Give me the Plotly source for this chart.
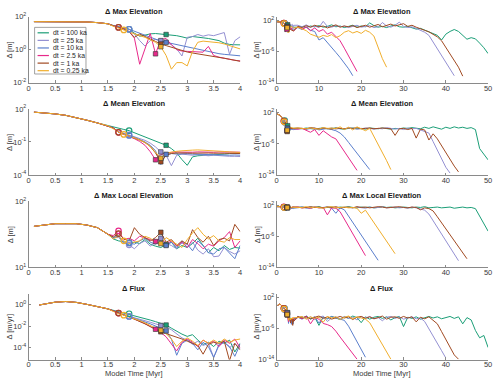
import plotly.graph_objects as go

W, H = 500, 384

SERIES = ["dt = 100 ka", "dt = 25 ka", "dt = 10 ka", "dt = 2.5 ka", "dt = 1 ka", "dt = 0.25 ka"]
COLORS = ["#1b9e77", "#9490d2", "#5b7fcc", "#e7298a", "#a14a22", "#f0ae2c"]

TITLES = ["\u0394 Max Elevation", "\u0394 Mean Elevation", "\u0394 Max Local Elevation", "\u0394 Flux"]
YLABELS = ["\u0394 [m]", "\u0394 [m]", "\u0394 [m]", "\u0394 [m/yr]"]
XLABEL = "Model Time [Myr]"

# model times [Myr]
T_EARLY = [0.1, 0.3, 0.5, 0.7, 0.9, 1.1, 1.3, 1.5]
T_EARLY_FLUX = [0.2, 0.3, 0.5, 0.7, 0.9, 1.1, 1.3, 1.5]
T_MID = [1.6, 1.7, 1.8, 1.9, 2.0, 2.1, 2.2, 2.3, 2.4, 2.5, 2.6, 2.7, 2.8, 2.9, 3.0,
         3.1, 3.2, 3.3, 3.4, 3.5, 3.6, 3.7, 3.8, 3.9, 4.0]
T_TAIL = [5, 6, 7, 8, 9, 10, 11, 12, 13, 14, 15, 16, 17, 18, 19, 20, 21, 22, 23, 24, 25,
          26, 27, 28, 29, 30, 31, 32, 33, 34, 35, 36, 37, 38, 39, 40, 41, 42, 43, 44, 45,
          46, 47, 48, 49, 50]

# marker times (open circle, filled square) per series
CIRCLE_T = [1.9, 1.9, 1.9, 1.7, 1.7, 1.8]
SQUARE_T = [2.6, 2.5, 2.6, 2.4, 2.5, 2.5]

# ---- values are log10 of the difference ----
# Max Elevation
MAXEL_EARLY = [1.70, 1.70, 1.70, 1.70, 1.69, 1.68, 1.64, 1.57]
MAXEL_100 = [1.47, 1.38, 1.30, 1.24, 1.00, 0.82, 0.88, 0.96, 0.98, 0.95, 0.92, 0.88, 0.85, 0.78, 0.70,
             0.80, 0.78, 0.72, 0.68, 0.62, 0.55, 0.40, 0.32, 0.30, 0.30,
             0.3, 0.5, 0.2, 0.6, 0.4, 0.7, 0.3, 0.5, 0.9, 0.4, 0.6, 0.2, 0.5, 0.8, 0.3, 0.6, 0.4, 1.4,
             0.7, 0.3, 0.5, 0.2, 0.6, 0.9, 0.4, 0.3, 0.5, 0.1, -0.2, 0.0, -0.4, -0.8, -1.2, -1.8,
             -3.0, -1.5, -0.8, -0.3, -0.8, -1.8, -2.8, -2.4, -2.7, -3.8, -5.0, -6.5]
MAXEL_25 = [1.45, 1.36, 1.30, 1.24, 0.95, 0.55, 0.22, 0.55, 0.62, 0.55, 0.45, 0.30, 0.05, -0.38, 0.75,
            0.80, 0.92, 0.82, 0.90, 0.85, 0.95, 1.04, -0.28, 0.55, 0.78,
            0.8, 0.4, 0.9, 0.3, 0.6, 0.2, 1.8, 0.5, 0.3, 0.7, 0.4, 0.6, 0.2, 0.5, 0.8, 0.3, 0.5, 0.7,
            0.2, 0.4, 1.5, 0.6, 0.3, 0.8, 1.6, 0.5, 0.2, 0.4, 0.0, -0.5, -1.0,
            -1.8, -3.5, -5.2, -7.0, -8.8, -10.5, -12.2]
MAXEL_10 = [1.45, 1.36, 1.30, 1.24, 1.12, 1.00, 0.88, 0.75, 0.60, 0.52, 0.45, 0.38, 0.30, 0.22, 0.15,
            0.08, 0.02, -0.05, -0.12, -0.18, -0.24, -0.28, -0.32, -0.35, -0.37,
            0.2, -0.3, 0.4, -0.5, -0.8, -3.0, -2.4, -3.6, -4.9, -6.2, -7.5, -8.8, -10.4, -12.2]
MAXEL_2_5 = [1.45, 1.36, 1.25, 1.10, 0.70, -0.88, 0.00, 0.98, -0.25, 0.62, 0.68, 0.30, 0.00, -0.08, -0.10,
             -0.12, -0.12, -0.15, 0.20, -0.35, -0.45, -0.52, -0.58, -0.64, -0.68,
             0.5, -0.2, 0.3, -0.6, 0.1, -0.8, -0.3, -1.5, -1.0, -2.2, -3.2, -5.1, -7.0, -9.0, -11.1]
MAXEL_1 = [1.45, 1.35, 1.25, 1.10, 0.75, 0.95, 0.82, 0.65, 0.50, 0.35, 0.25, 0.15, 0.05, -0.05, -0.14,
           -0.20, -0.25, -0.30, -0.34, -0.38, -0.45, -0.52, -0.58, -0.64, -0.70,
           0.5, 0.2, 0.7, 0.3, 0.8, 0.4, 0.6, 0.1, 0.5, 0.9, 0.3, 0.6, 0.4, 0.7, 0.2, 0.5, 0.8, 0.3,
           0.6, 1.0, 0.4, 0.7, 1.1, 0.6, 0.9, 1.2, 0.5, 0.8, 0.3, 0.0, -0.5, -0.9, -1.5, -2.2,
           -3.2, -4.9, -6.6, -8.3, -10.0, -12.3]
MAXEL_0_25 = [1.42, 1.30, 1.20, 1.10, 0.95, 0.85, 0.75, 0.62, 0.45, 0.18, -0.35, -1.18, -0.78, -0.78, -0.98,
              -0.10, 0.45, 0.52, 0.50, 0.48, 0.42, 0.35, 0.25, 0.15, 0.05,
              0.3, -0.2, -0.6, -1.5, -2.0, -2.3, -1.8, -2.1, -1.6, -2.4, -1.9, -1.0, -0.6, -1.2, -0.8,
              -1.3, -0.5, -1.0, -2.0, -4.8, -7.8, -10.0]

# Mean Elevation
MEANEL_EARLY = [1.71, 1.65, 1.55, 1.42, 1.22, 0.98, 0.73, 0.47]
MEANEL_100 = [0.35, 0.25, 0.14, 0.03, -0.16, -0.35, -0.54, -0.73, -0.92, -1.11, -1.30, -1.60, -2.00, -2.60,
              -3.12, -2.35, -2.25, -2.22, -2.20, -2.18, -2.15, -2.10, -2.05, -2.00, -1.97,
              -2.0, -2.1, -1.9, -2.0, -2.2, -2.0, -1.9, -2.1, -2.0, -1.9, -2.1, -2.2, -2.0, -1.9, -2.1,
              -2.0, -2.2, -1.9, -2.0, -2.1, -1.9, -2.0, -2.2, -2.0, -2.1, -1.9, -2.0, -1.8, -1.9, -2.1,
              -1.7, -2.0, -1.6, -1.9, -2.2, -1.7, -2.0, -1.6, -1.9, -1.7, -2.0, -1.8, -2.3,
              -7.2, -8.6, -10.1]
MEANEL_25 = [0.25, -0.05, -0.20, -0.35, -0.50, -0.68, -0.85, -1.10, -1.45, -1.90, -2.20, -3.15, -2.20, -2.10,
             -2.15, -2.20, -2.15, -2.20, -2.25, -2.20, -2.25, -2.28, -2.30, -2.30, -2.32,
             -2.1, -2.0, -2.2, -1.9, -2.1, -2.3, -2.0, -2.1, -1.9, -2.2, -2.0, -2.1, -1.9, -2.0, -2.2,
             -2.1, -1.9, -2.0, -2.2, -2.0, -2.1, -1.8, -2.0, -2.2, -2.0, -2.3, -1.9, -2.1, -2.0, -2.4,
             -2.6, -3.2, -5.4, -7.6, -9.8, -12.0, -13.5]
MEANEL_10 = [0.28, -0.10, -0.25, -0.40, -0.58, -0.78, -1.00, -1.30, -1.80, -3.05, -2.12, -2.05, -2.10, -2.08,
             -2.05, -2.10, -2.12, -2.10, -2.15, -2.12, -2.15, -2.18, -2.20, -2.18, -2.20,
             -2.1, -2.0, -2.2, -2.1, -1.9, -2.4, -2.1, -2.0, -2.3, -2.6, -3.2, -4.2, -5.6, -7.0, -8.4,
             -9.8, -11.2, -12.6]
MEANEL_2_5 = [0.28, -0.12, -0.30, -0.50, -0.70, -0.95, -1.30, -1.88, -2.62, -2.15, -2.00, -1.95, -1.90, -1.92,
              -1.95, -1.93, -1.90, -1.92, -1.95, -1.93, -1.90, -1.92, -1.95, -1.93, -1.95,
              -2.2, -2.0, -2.4, -3.0, -2.3, -3.8, -2.6, -3.4, -4.2, -4.7, -6.3, -8.0, -9.6, -11.2, -12.8]
MEANEL_1 = [0.28, -0.12, -0.28, -0.45, -0.62, -0.82, -1.05, -1.40, -2.00, -2.80, -2.20, -2.05, -2.00, -1.98,
            -2.00, -2.02, -2.00, -1.98, -2.00, -2.02, -2.00, -2.02, -2.03, -2.04, -2.05,
            -1.9, -2.0, -2.1, -1.8, -2.0, -2.1, -1.9, -2.0, -2.2, -1.9, -2.0, -2.1, -1.9, -2.0, -1.8,
            -2.1, -2.0, -1.9, -2.1, -2.0, -1.9, -2.0, -2.1, -3.8, -2.1, -2.0, -2.3, -2.0, -4.5, -2.2,
            -2.4, -5.0, -3.4, -4.7, -6.5, -8.2, -10.0, -11.7, -13.2]
MEANEL_0_25 = [0.20, -0.10, -0.31, -0.45, -0.62, -0.82, -1.05, -1.40, -1.95, -2.47, -2.00, -1.90, -1.85, -1.80,
               -1.75, -1.74, -1.72, -1.74, -1.74, -1.76, -1.82, -1.86, -1.90, -1.93, -1.95,
               -1.9, -2.0, -2.1, -1.9, -2.0, -2.2, -1.8, -2.0, -1.9, -2.1, -1.6, -2.3, -1.7, -2.4, -1.6,
               -2.2, -2.6, -2.0, -4.0, -6.1, -8.2, -10.3, -12.6]

# Max Local Elevation
MAXLOC_EARLY = [1.62, 1.64, 1.66, 1.66, 1.66, 1.64, 1.60, 1.50]
MAXLOC_100 = [1.43, 1.40, 1.38, 1.37, 1.38, 1.36, 1.42, 1.35, 1.32, 1.30, 1.34, 1.38, 1.28, 1.33, 1.30,
              1.36, 1.44, 1.32, 1.22, 1.30, 1.25, 1.33, 1.27, 1.30, 1.29,
              1.4, 1.5, 1.3, 1.5, 1.4, 1.6, 1.3, 1.4, 1.5, 1.3, 1.5, 1.4, 1.6, 1.4, 1.3, 1.5, 1.4, 1.5,
              1.3, 1.4, 1.6, 1.4, 1.5, 1.3, 1.4, 1.5, 1.4, 1.3, 1.5, 1.4, 1.6, 1.3, 1.4, 1.5, 1.3, 1.4,
              1.5, 1.2, 1.4, 1.5, 1.3, 1.4, 1.1, -0.8, -2.7, -4.7]
MAXLOC_25 = [1.45, 1.45, 1.38, 1.34, 1.28, 1.36, 1.40, 1.32, 1.38, 1.44, 1.36, 1.33, 1.28, 1.40, 1.30,
             1.38, 1.26, 1.20, 1.28, 1.16, 1.17, 1.30, 1.24, 1.20, 1.25,
             1.3, 1.5, 1.4, 1.2, 1.5, 1.3, 1.4, 1.6, 1.3, 1.4, 1.2, 1.5, 1.4, 1.3, 1.5, 1.4, 1.2, 1.5,
             1.3, 1.4, 1.6, 1.3, 1.4, 1.5, 1.3, 1.4, 1.2, 1.5, 1.3, 1.0, 0.7,
             -0.3, -2.0, -3.8, -5.5, -7.3, -9.0, -10.8, -12.3]
MAXLOC_10 = [1.45, 1.48, 1.36, 1.37, 1.35, 1.40, 1.44, 1.38, 1.35, 1.40, 1.33, 1.38, 1.30, 1.37, 1.35,
             1.25, 1.40, 1.33, 1.22, 1.20, 1.28, 1.30, 1.22, 1.13, 1.33,
             1.4, 1.5, 1.3, 1.2, 1.5, 1.4, 1.3, 1.5, 1.2, -0.1, 1.3, 0.8, -0.8, -2.5, -4.1, -5.7, -7.4,
             -9.0, -10.6, -12.2]
MAXLOC_2_5 = [1.48, 1.55, 1.42, 1.44, 1.40, 1.47, 1.45, 1.42, 1.39, 1.45, 1.35, 1.40, 1.32, 1.38, 1.30,
              1.42, 1.36, 1.28, 1.35, 1.32, 1.40, 1.45, 1.54, 1.30, 1.40,
              1.5, 1.3, 1.4, 1.2, 1.5, 1.3, 1.4, -0.5, 1.3, 1.2, 0.3, -1.6, -3.5, -5.3, -7.2, -9.1, -11.0]
MAXLOC_1 = [1.46, 1.51, 1.43, 1.40, 1.60, 1.50, 1.45, 1.40, 1.45, 1.53, 1.38, 1.42, 1.33, 1.40, 1.35,
            1.57, 1.45, 1.38, 1.47, 1.33, 1.42, 1.44, 1.40, 1.65, 1.54,
            1.5, 1.3, 1.4, 1.6, 1.4, 1.5, 1.3, 1.5, 1.4, 1.6, 1.3, 1.4, 1.5, 1.3, 1.6, 1.4, 1.5, 1.3,
            1.4, 1.6, 1.5, 1.3, 1.4, 1.5, 1.6, 1.4, 1.3, 1.5, 1.4, 0.8, 1.3, 1.1,
            0.5, -1.0, -2.5, -4.0, -5.5, -7.0, -8.5, -10.0, -11.8]
MAXLOC_0_25 = [1.43, 1.47, 1.40, 1.36, 1.38, 1.40, 1.47, 1.44, 1.38, 1.36, 1.45, 1.40, 1.34, 1.30, 1.42,
               1.52, 1.60, 1.50, 1.43, 1.48, 1.40, 1.38, 1.45, 1.42, 1.42,
               1.5, 1.4, 1.6, 1.3, 1.5, 1.4, 1.2, 1.5, 1.6, 1.3, 1.4, 1.5, 1.3, 1.4, 1.2, -0.1, 0.7,
               -0.9, -2.5, -4.1, -5.7, -7.3, -8.9, -10.5]

# Flux
FLUX_EARLY = [-0.06, 0.04, 0.20, 0.26, 0.18, 0.00, -0.18, -0.42]
FLUX_100 = [-0.55, -0.68, -0.78, -0.87, -1.00, -1.15, -1.30, -1.45, -1.60, -1.75, -1.91, -2.20, -2.50, -2.75,
            -2.96, -2.80, -3.30, -3.70, -3.50, -3.90, -3.40, -3.60, -3.30, -4.40, -3.60,
            -3.0, -3.4, -2.8, -3.6, -3.1, -5.2, -3.0, -3.5, -2.9, -3.3, -3.7, -3.0, -3.4, -2.8, -3.2,
            -4.5, -3.0, -3.6, -3.1, -2.9, -3.4, -3.0, -3.8, -3.2, -2.9, -5.5, -3.1, -3.4, -3.0, -3.6,
            -3.2, -2.9, -3.3, -3.0, -3.5, -3.1, -2.9, -3.4, -3.0, -4.8, -3.2, -3.8,
            -6.5, -8.4, -7.8, -10.9]
FLUX_25 = [-0.60, -0.80, -0.95, -1.10, -1.22, -1.35, -1.50, -1.65, -1.80, -1.95, -2.10, -2.35, -2.70, -3.10,
           -3.30, -3.70, -3.40, -3.80, -3.60, -4.90, -3.80, -3.50, -4.00, -3.60, -4.10,
           -3.2, -2.9, -3.5, -3.0, -3.7, -3.1, -2.8, -4.2, -3.3, -3.0, -3.6, -2.9, -3.4, -3.1, -3.8,
           -3.0, -3.3, -2.9, -3.5, -3.2, -4.0, -3.1, -2.9, -3.4, -3.0, -3.6, -3.2, -3.0, -3.5, -3.3,
           -4.2, -6.0, -7.9, -9.8, -11.7, -13.6]
FLUX_10 = [-0.60, -0.82, -0.98, -1.12, -1.28, -1.45, -1.62, -1.80, -2.00, -2.25, -2.45, -3.20, -4.70, -3.60,
           -3.30, -3.60, -4.20, -3.50, -3.90, -4.90, -3.70, -3.50, -3.90, -4.80, -3.70,
           -3.1, -3.6, -2.9, -3.4, -3.0, -4.6, -3.2, -3.5, -2.9, -3.3, -3.6,
           -3.9, -5.4, -7.4, -9.4, -11.4, -13.4]
FLUX_2_5 = [-0.60, -0.81, -0.98, -1.15, -1.35, -1.55, -1.78, -2.05, -2.30, -2.60, -3.00, -3.60, -4.30, -3.50,
            -3.20, -3.50, -3.90, -3.30, -3.60, -3.40, -3.90, -3.30, -3.60, -3.20, -4.00,
            -3.0, -3.5, -2.8, -4.8, -3.2, -3.6, -4.7, -5.0, -5.5, -6.7, -8.2, -9.6, -11.0, -12.5, -13.9]
FLUX_1 = [-0.60, -0.81, -0.98, -1.15, -1.35, -1.55, -1.80, -2.05, -2.30, -2.54, -2.70, -2.85, -3.00, -3.20,
          -3.40, -3.60, -3.80, -4.60, -3.70, -3.50, -3.60, -3.40, -5.20, -3.60, -4.20,
          -2.9, -3.3, -3.0, -3.5, -3.1, -2.8, -3.4, -3.0, -3.6, -3.2, -2.9, -3.3, -3.0, -3.7, -3.1,
          -2.9, -3.4, -3.0, -3.5, -3.2, -2.8, -3.6, -3.1, -3.0, -3.4, -2.9, -3.3, -3.0, -4.3, -3.1,
          -3.5, -3.0, -3.8, -4.8, -6.8, -8.8, -10.8, -12.8, -13.9]
FLUX_0_25 = [-0.65, -0.88, -1.00, -1.15, -1.32, -1.50, -1.70, -1.95, -2.20, -2.40, -2.70, -3.20, -3.90, -3.40,
             -3.10, -3.40, -3.80, -3.30, -3.60, -3.30, -3.60, -3.20, -3.50, -3.30, -3.20,
             -3.2, -2.9, -3.6, -3.0, -3.4, -3.1, -4.4, -2.9, -3.3, -3.0, -3.7, -3.1, -2.8, -3.5, -3.0,
             -3.3, -3.6, -4.5, -6.4, -8.3, -10.2, -12.1, -13.9]

PANELS = [
    (T_EARLY, MAXEL_EARLY, [MAXEL_100, MAXEL_25, MAXEL_10, MAXEL_2_5, MAXEL_1, MAXEL_0_25]),
    (T_EARLY, MEANEL_EARLY, [MEANEL_100, MEANEL_25, MEANEL_10, MEANEL_2_5, MEANEL_1, MEANEL_0_25]),
    (T_EARLY, MAXLOC_EARLY, [MAXLOC_100, MAXLOC_25, MAXLOC_10, MAXLOC_2_5, MAXLOC_1, MAXLOC_0_25]),
    (T_EARLY_FLUX, FLUX_EARLY, [FLUX_100, FLUX_25, FLUX_10, FLUX_2_5, FLUX_1, FLUX_0_25]),
]

# axis exponent ranges and tick exponents
YRANGE_LEFT = [[-2, 2], [-4, 2], [1, 2], [-5.1, 1]]
YTICK_LEFT = [[-2, 0, 2], [-4, -1, 2], [1, 2], [-4, -2, 0]]
YRANGE_RIGHT = [-14, 3]
YTICK_RIGHT = [-14, -6, 2]
XTICK_LEFT = [0, 0.5, 1, 1.5, 2, 2.5, 3, 3.5, 4]
XTICK_RIGHT = [0, 10, 20, 30, 40, 50]

FONT = "Liberation Sans, Arial, sans-serif"
LINE_C = "#8a8a8a"
TXT_C = "#3a3a3a"

XDOM = [[27 / W, 241 / W], [278 / W, 492 / W]]
ROW_TOP = [11, 106, 201, 296]
PH = 68

fig = go.Figure()
layout = {}
annotations = []
shapes = []

for r in range(4):
    t_early, early, series = PANELS[r]
    y0 = 1 - (ROW_TOP[r] + PH) / H
    y1 = 1 - ROW_TOP[r] / H
    for c in range(2):
        k = r * 2 + c + 1
        xa = "x" if k == 1 else f"x{k}"
        ya = "y" if k == 1 else f"y{k}"
        xname = "xaxis" if k == 1 else f"xaxis{k}"
        yname = "yaxis" if k == 1 else f"yaxis{k}"
        for i, vals in enumerate(series):
            t = t_early + T_MID + T_TAIL[:len(vals) - len(T_MID)]
            v = early + vals
            fig.add_trace(go.Scatter(
                x=t, y=[10 ** e for e in v], mode="lines", xaxis=xa, yaxis=ya,
                line=dict(color=COLORS[i], width=1), showlegend=False, hoverinfo="skip"))
        # markers
        cx, cy, sx, sy = [], [], [], []
        for i, vals in enumerate(series):
            ic = min(range(len(T_MID)), key=lambda j: abs(T_MID[j] - CIRCLE_T[i]))
            isq = min(range(len(T_MID)), key=lambda j: abs(T_MID[j] - SQUARE_T[i]))
            cx.append(T_MID[ic]); cy.append(10 ** vals[ic])
            sx.append(T_MID[isq]); sy.append(10 ** vals[isq])
        fig.add_trace(go.Scatter(
            x=cx, y=cy, mode="markers", xaxis=xa, yaxis=ya, showlegend=False, hoverinfo="skip",
            marker=dict(symbol="circle-open", size=5.5, color=COLORS, line=dict(width=1.2))))
        fig.add_trace(go.Scatter(
            x=sx, y=sy, mode="markers", xaxis=xa, yaxis=ya, showlegend=False, hoverinfo="skip",
            marker=dict(symbol="square", size=4.5, color=COLORS,
                        line=dict(width=0.6, color="#333333"))))

        if c == 0:
            xr, xt = [0, 4], XTICK_LEFT
            yr, yt = YRANGE_LEFT[r], YTICK_LEFT[r]
        else:
            xr, xt = [0, 50], XTICK_RIGHT
            yr, yt = YRANGE_RIGHT, YTICK_RIGHT
        layout[xname] = dict(
            domain=XDOM[c], range=xr, anchor=ya, tickvals=xt, ticks="inside", ticklen=2.5,
            tickwidth=0.8, tickcolor=LINE_C, showline=True, linecolor=LINE_C, linewidth=0.8,
            showgrid=False, zeroline=False, ticklabelstandoff=-2,
            tickfont=dict(size=7.5, color=TXT_C, family=FONT))
        layout[yname] = dict(
            domain=[y0, y1], type="log", range=yr, anchor=xa,
            tickvals=[10 ** e for e in yt], ticktext=[f"10<sup>{e}</sup>" for e in yt],
            ticks="inside", ticklen=2.5, tickwidth=0.8, tickcolor=LINE_C, showline=True,
            linecolor=LINE_C, linewidth=0.8, showgrid=False, zeroline=False,
            tickfont=dict(size=7.5, color=TXT_C, family=FONT))

        xc = (XDOM[c][0] + XDOM[c][1]) / 2
        annotations.append(dict(
            text=f"<b>{TITLES[r]}</b>", x=xc, y=1 - (ROW_TOP[r] - 5.5) / H, xref="paper",
            yref="paper", showarrow=False, xanchor="center", yanchor="middle",
            font=dict(size=7.5, color="#1a1a1a", family=FONT)))
        annotations.append(dict(
            text=YLABELS[r], x=(8 if c == 0 else 258) / W, y=1 - (ROW_TOP[r] + PH / 2) / H,
            xref="paper", yref="paper", showarrow=False, textangle=-90, xanchor="center",
            yanchor="middle", font=dict(size=7.5, color=TXT_C, family=FONT)))
        if r == 3:
            annotations.append(dict(
                text=XLABEL, x=xc, y=1 - 378.5 / H, xref="paper", yref="paper", showarrow=False,
                xanchor="center", yanchor="middle", font=dict(size=7.5, color=TXT_C, family=FONT)))

# legend (drawn manually, compact like the original)
shapes.append(dict(type="rect", xref="paper", yref="paper", x0=33 / W, x1=85 / W,
                   y0=1 - 70 / H, y1=1 - 22 / H, line=dict(color="#8a8a8a", width=0.8),
                   fillcolor="white", layer="above"))
for i, lab in enumerate(SERIES):
    yp = 27.6 + 7.8 * i
    shapes.append(dict(type="line", xref="paper", yref="paper", x0=36 / W, x1=47.5 / W,
                       y0=1 - yp / H, y1=1 - yp / H, line=dict(color=COLORS[i], width=1.2),
                       layer="above"))
    annotations.append(dict(text=lab, x=49.5 / W, y=1 - yp / H, xref="paper", yref="paper",
                            showarrow=False, xanchor="left", yanchor="middle",
                            font=dict(size=6.8, color="#262626", family=FONT)))

fig.update_layout(
    width=W, height=H, margin=dict(l=0, r=0, t=0, b=0), paper_bgcolor="white",
    plot_bgcolor="white", showlegend=False, annotations=annotations, shapes=shapes, **layout)

fig.write_html("out.html", config={"displayModeBar": False},
               post_script="document.body.style.margin='0';document.body.style.overflow='hidden';")
